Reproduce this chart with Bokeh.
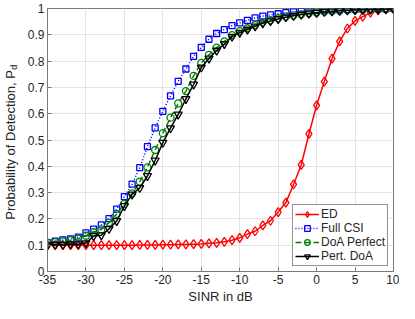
from bokeh.plotting import figure
from bokeh.layouts import row, column
from bokeh.models import Range1d, Legend, LegendItem, FixedTicker
from bokeh.core.properties import value
from bokeh.embed import file_html
from bokeh.resources import INLINE

# ---- data ----
snr_db = list(range(-35, 11))

ed = [0.100, 0.100, 0.100, 0.100, 0.100, 0.100, 0.100, 0.100, 0.100, 0.100,
      0.100, 0.100, 0.101, 0.101, 0.101, 0.102, 0.102, 0.103, 0.103, 0.104,
      0.105, 0.107, 0.109, 0.113, 0.119, 0.128, 0.142, 0.153, 0.175, 0.193,
      0.226, 0.262, 0.331, 0.405, 0.523, 0.632, 0.722, 0.809, 0.875, 0.924,
      0.953, 0.969, 0.984, 0.993, 0.997, 1.000]

full_csi = [0.110, 0.115, 0.120, 0.124, 0.131, 0.147, 0.161, 0.177, 0.201, 0.237,
            0.285, 0.332, 0.395, 0.475, 0.546, 0.609, 0.668, 0.723, 0.770, 0.818,
            0.852, 0.883, 0.905, 0.920, 0.935, 0.945, 0.955, 0.964, 0.971, 0.976,
            0.980, 0.984, 0.987, 0.989, 0.991, 0.993, 0.994, 0.995, 0.996, 0.997,
            0.997, 0.998, 0.998, 0.999, 0.999, 1.000]

doa_perfect = [0.110, 0.112, 0.115, 0.119, 0.125, 0.136, 0.150, 0.160, 0.186, 0.219,
               0.257, 0.297, 0.342, 0.396, 0.462, 0.526, 0.585, 0.639, 0.686, 0.744,
               0.793, 0.824, 0.851, 0.875, 0.899, 0.914, 0.925, 0.937, 0.948, 0.956,
               0.963, 0.969, 0.974, 0.978, 0.982, 0.985, 0.988, 0.990, 0.992, 0.994,
               0.995, 0.996, 0.997, 0.998, 0.999, 1.000]

pert_doa = [0.100, 0.102, 0.102, 0.104, 0.104, 0.108, 0.135, 0.138, 0.162, 0.192,
            0.249, 0.293, 0.318, 0.363, 0.422, 0.490, 0.545, 0.597, 0.656, 0.711,
            0.776, 0.810, 0.840, 0.865, 0.893, 0.908, 0.920, 0.932, 0.944, 0.952,
            0.960, 0.967, 0.972, 0.977, 0.981, 0.984, 0.987, 0.989, 0.991, 0.993,
            0.994, 0.995, 0.996, 0.997, 0.998, 0.999]

x_ticks = [-35, -30, -25, -20, -15, -10, -5, 0, 5, 10]
y_ticks = [0, 0.1, 0.2, 0.3, 0.4, 0.5, 0.6, 0.7, 0.8, 0.9, 1]
y_tick_labels = ["0", "0.1", "0.2", "0.3", "0.4", "0.5", "0.6", "0.7", "0.8", "0.9", "1"]
x_tick_labels = ["-35", "-30", "-25", "-20", "-15", "-10", "-5", "0", "5", "10"]

series_names = ["ED", "Full CSI", "DoA Perfect", "Pert. DoA"]
x_label = "SINR in dB"
y_label = "Probability of Detection, P"
y_label_sub = "d"

FONT = "Liberation Sans"
TXT = "#262626"
AX = "#7a7a7a"

TOTAL_W, TOTAL_H = 399, 303
LW = 20                      # left strip carrying the y label
HX = 15                      # bottom strip carrying the x label
W = TOTAL_W - LW
H = TOTAL_H - HX
BL, BR, BT, BB = 27, 6, 8, 17
frame_h = H - BT - BB
x0, x1 = -35, 10
y0, y1 = 0, 1

p = figure(width=W, height=H, output_backend="svg", toolbar_location=None,
           x_range=Range1d(x0, x1), y_range=Range1d(y0, y1),
           min_border_left=BL, min_border_right=BR, min_border_top=BT, min_border_bottom=BB,
           background_fill_color="white", border_fill_color="white")

p.outline_line_color = AX
p.outline_line_width = 1

for ax in (p.xaxis[0], p.yaxis[0]):
    ax.axis_line_color = AX
    ax.major_tick_line_color = AX
    ax.major_tick_in = 4
    ax.major_tick_out = 0
    ax.minor_tick_line_color = None
    ax.major_label_text_font = FONT
    ax.major_label_text_font_size = "12px"
    ax.major_label_text_color = TXT
p.xaxis.major_label_standoff = 3
p.yaxis.major_label_standoff = 3

p.xaxis.ticker = FixedTicker(ticks=x_ticks)
p.yaxis.ticker = FixedTicker(ticks=y_ticks)
p.xaxis.major_label_overrides = {t: l for t, l in zip(x_ticks, x_tick_labels)}
p.yaxis.major_label_overrides = {t: l for t, l in zip(y_ticks, y_tick_labels)}

p.xgrid.grid_line_color = "#e3e3e3"
p.ygrid.grid_line_color = "#e3e3e3"
p.xgrid.ticker = FixedTicker(ticks=x_ticks)
p.ygrid.ticker = FixedTicker(ticks=y_ticks)

styles = [
    dict(color="#ff0000", dash="solid", marker="diamond", size=9),
    dict(color="#0000ff", dash="1 2", marker="square", size=6),
    dict(color="#008000", dash="6 3", marker="circle", size=7),
    dict(color="#000000", dash="solid", marker="inverted_triangle", size=8),
]
all_series = [ed, full_csi, doa_perfect, pert_doa]

items = []
for name, ys, st in zip(series_names, all_series, styles):
    lr = p.line(snr_db, ys, line_color=st["color"], line_width=1.5, line_dash=st["dash"])
    sr = p.scatter(snr_db, ys, marker=st["marker"], size=st["size"],
                   line_color=st["color"], line_width=1.3, fill_alpha=0)
    items.append(LegendItem(label=name, renderers=[lr, sr]))

legend = Legend(items=items, location="bottom_right")
legend.margin = 5
legend.padding = 2
legend.spacing = 0
legend.glyph_width = 24
legend.glyph_height = 14
legend.label_height = 14
legend.label_standoff = 2
legend.label_text_font = FONT
legend.label_text_font_size = "12px"
legend.label_text_color = TXT
legend.border_line_color = TXT
legend.border_line_width = 1
legend.background_fill_color = "white"
legend.background_fill_alpha = 1
p.add_layout(legend)


def strip(w, h):
    f = figure(width=w, height=h, output_backend="svg", toolbar_location=None,
               x_range=Range1d(0, w), y_range=Range1d(0, h),
               x_axis_type=None, y_axis_type=None,
               min_border_left=0, min_border_right=0, min_border_top=0, min_border_bottom=0,
               background_fill_color="white", border_fill_color="white")
    f.outline_line_color = None
    f.grid.visible = False
    return f


# ---- left strip: rotated y label with subscript ----
s = strip(LW, H)
yc = H - (BT + frame_h / 2)
label_total = 11.505 * 13 + 5.5
top_of_main = yc + label_total / 2 - 5.5
s.text(x=[10], y=[top_of_main], text=[y_label], angle=1.5707963,
       text_font=value(FONT), text_font_size=value("13px"), text_color=TXT,
       text_align="right", text_baseline="middle")
s.text(x=[13.5], y=[top_of_main + 0.5], text=[y_label_sub], angle=1.5707963,
       text_font=value(FONT), text_font_size=value("9px"), text_color=TXT,
       text_align="left", text_baseline="middle")

# ---- bottom strip: x label ----
xs = strip(TOTAL_W, HX)
frame_cx = LW + BL + (W - BL - BR) / 2
xs.text(x=[frame_cx], y=[HX / 2], text=[x_label],
        text_font=value(FONT), text_font_size=value("13px"), text_color=TXT,
        text_align="center", text_baseline="middle")

layout = column(row(s, p, spacing=0), xs, spacing=0)
open("out.html", "w").write(file_html(layout, INLINE))
